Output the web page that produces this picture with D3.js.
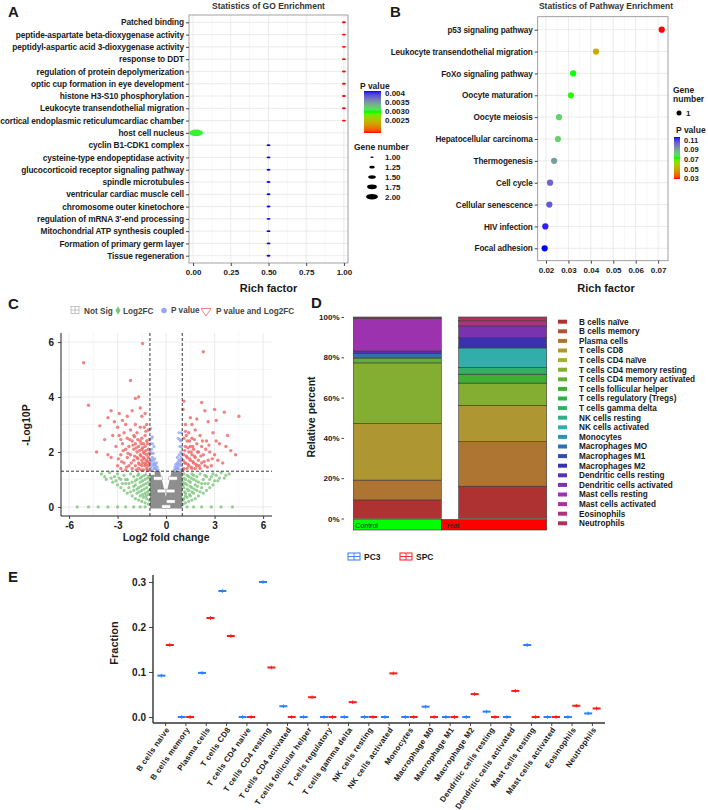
<!DOCTYPE html>
<html>
<head>
<script src="https://cdn.jsdelivr.net/npm/d3@7"></script>
<style>
body { margin: 0; background: #fff; }
svg { font-family: "Liberation Sans", Arial, sans-serif; font-weight: bold; }
.grid-major { stroke: #e6e6e6; stroke-width: 0.8; }
.grid-minor { stroke: #f2f2f2; stroke-width: 0.6; }
.border { fill: none; stroke: #8a8a8a; stroke-width: 0.8; }
</style>
</head>
<body>
<div id="chart"></div>
<script>

// ---------- A: GO enrichment ----------
var goTerms = ["Patched binding", "peptide-aspartate beta-dioxygenase activity",
  "peptidyl-aspartic acid 3-dioxygenase activity", "response to DDT",
  "regulation of protein depolymerization", "optic cup formation in eye development",
  "histone H3-S10 phosphorylation", "Leukocyte transendothelial migration",
  "cortical endoplasmic reticulumcardiac chamber", "host cell nucleus",
  "cyclin B1-CDK1  complex", "cysteine-type endopeptidase activity",
  "glucocorticoid receptor signaling pathway", "spindle microtubules",
  "ventricular cardiac muscle cell", "chromosome outer kinetochore",
  "regulation of mRNA 3'-end processing", "Mitochondrial ATP synthesis coupled",
  "Formation of primary germ layer", "Tissue regeneration"];
var goRich = [1, 1, 1, 1, 1, 1, 1, 1, 1, 0.02, 0.5, 0.5, 0.5, 0.5, 0.5, 0.5, 0.5, 0.5, 0.5, 0.5];
var goP = [0.0018, 0.0018, 0.0018, 0.0018, 0.0018, 0.0018, 0.0018, 0.0018, 0.0018, 0.003,
  0.0041, 0.0041, 0.0041, 0.0041, 0.0041, 0.0041, 0.0041, 0.0041, 0.0041, 0.0041];
var goGenes = [1, 1, 1, 1, 1, 1, 1, 1, 1, 2, 1, 1, 1, 1, 1, 1, 1, 1, 1, 1];
var goTicks = [0, 0.25, 0.5, 0.75, 1];
var goPTicks = [0.004, 0.0035, 0.003, 0.0025];
var goGeneTicks = [1, 1.25, 1.5, 1.75, 2];

// ---------- B: pathway enrichment ----------
var keggTerms = ["p53 signaling pathway", "Leukocyte transendothelial migration",
  "FoXo signaling pathway", "Oocyte maturation", "Oocyte meiosis",
  "Hepatocellular carcinoma", "Thermogenesis", "Cell cycle", "Cellular senescence",
  "HIV infection", "Focal adhesion"];
var keggRich = [0.0716, 0.0423, 0.0321, 0.0311, 0.0258, 0.0253, 0.0236, 0.0218, 0.0215, 0.0197, 0.0194];
var keggP = [0.0296, 0.051, 0.073, 0.072, 0.081, 0.082, 0.092, 0.103, 0.105, 0.114, 0.116];
var keggTicks = [0.02, 0.03, 0.04, 0.05, 0.06, 0.07];
var keggPTicks = [0.11, 0.09, 0.07, 0.05, 0.03];

// ---------- C: volcano ----------
var volcRed = [[-5.1,5.25],[-4.8,3.7],[-4.1,2.95],[-3.8,2.45],[-3.6,3.25],[-3.4,3.5],[-3.2,3.1],
  [-3.0,2.9],[-2.9,3.4],[-2.7,3.15],[-2.5,3.0],[-2.4,3.3],[-2.2,4.6],[-2.1,3.5],[-1.9,3.95],
  [-1.7,4.0],[-1.6,3.6],[-1.5,3.3],[-1.3,3.4],[-1.45,5.95],[-1.2,3.0],
  [-3.1,2.2],[-2.9,2.6],[-2.8,1.9],[-2.7,2.3],[-2.6,1.6],[-2.6,2.7],[-2.5,2.1],[-2.4,1.8],
  [-2.4,2.5],[-2.3,1.5],[-2.3,2.2],[-2.2,2.8],[-2.2,1.9],[-2.1,1.4],[-2.1,2.4],[-2.0,1.7],
  [-2.0,2.1],[-2.0,2.6],[-1.9,1.5],[-1.9,2.3],[-1.8,1.8],[-1.8,2.0],[-1.8,2.7],[-1.7,1.4],
  [-1.7,1.6],[-1.7,2.2],[-1.6,1.9],[-1.6,2.4],[-1.6,2.9],[-1.5,1.5],[-1.5,1.7],[-1.5,2.1],
  [-1.5,2.5],[-1.4,1.35],[-1.4,1.8],[-1.4,2.0],[-1.4,2.3],[-1.3,1.5],[-1.3,1.6],[-1.3,2.2],
  [-1.3,2.6],[-1.2,1.4],[-1.2,1.7],[-1.2,1.9],[-1.2,2.4],[-1.1,1.5],[-1.1,1.8],[-1.1,2.1],
  [-1.1,2.8],[-1.05,1.6],[-3.4,1.8],[-3.0,1.5],[-2.8,1.4],[-2.5,1.35],[-3.6,1.9],[-4.3,2.0],
  [-2.45,1.45],[-2.35,1.95],[-2.25,2.45],[-2.15,1.6],[-2.05,2.25],[-1.95,1.85],[-1.95,2.55],
  [-1.85,1.35],[-1.85,2.15],[-1.75,1.75],[-1.75,2.45],[-1.65,1.55],[-1.65,2.05],[-1.55,1.35],
  [-1.55,1.85],[-1.55,2.3],[-1.45,1.6],[-1.45,2.15],[-1.35,1.75],[-1.35,1.95],[-1.25,1.55],
  [-1.25,2.05],[-1.25,2.75],[-1.15,1.35],[-1.15,1.65],[-1.15,2.3],[-1.05,1.95],[-1.05,2.45],
  [-2.75,1.65],[-2.65,2.05],[-2.95,1.75],[-3.3,2.6],[-2.8,2.45],[-1.9,3.0],[-1.35,2.9],
  [2.3,5.65],[1.1,3.85],[1.05,3.55],[2.2,3.8],[2.4,3.5],[3.0,3.55],[3.1,3.15],[3.6,3.45],
  [4.5,3.3],[1.5,3.25],[1.9,3.2],[2.6,3.1],[3.8,2.6],[4.0,2.05],[3.7,2.2],[4.3,1.9],[3.2,1.7],
  [1.1,1.4],[1.1,1.9],[1.1,2.5],[1.2,1.6],[1.2,2.2],[1.2,3.0],[1.3,1.4],[1.3,1.8],[1.3,2.4],
  [1.4,1.5],[1.4,2.0],[1.4,2.7],[1.5,1.7],[1.5,2.2],[1.6,1.4],[1.6,1.9],[1.6,2.5],[1.7,1.6],
  [1.7,2.1],[1.8,1.4],[1.8,1.8],[1.8,2.8],[1.9,1.5],[1.9,2.3],[2.0,1.7],[2.0,2.0],[2.1,1.4],
  [2.1,2.6],[2.2,1.6],[2.2,2.2],[2.3,1.9],[2.4,1.5],[2.5,2.4],[2.6,1.7],[2.7,2.0],[2.8,1.5],
  [2.9,2.7],[3.0,1.9],[3.3,2.3],[3.5,1.6],[1.05,1.7],[1.15,2.05],
  [1.05,1.35],[1.15,1.6],[1.25,1.85],[1.25,2.6],[1.35,1.55],[1.35,2.15],[1.45,1.75],[1.45,2.4],
  [1.55,1.45],[1.55,2.0],[1.65,1.65],[1.65,2.2],[1.75,1.85],[1.75,2.45],[1.85,1.55],[1.95,2.0],
  [2.05,1.5],[2.15,1.85],[2.25,2.4],[2.35,1.65],[2.45,2.1],[2.55,1.45],[2.65,2.25],[2.85,1.75],
  [3.1,2.4],[1.2,2.75],[1.6,3.0]];
var volcBlue = [[-0.95,2.85],[-0.9,2.5],[-0.9,2.1],[-0.85,1.8],[-0.85,2.3],[-0.8,1.5],[-0.8,1.95],
  [-0.75,1.6],[-0.75,2.2],[-0.7,1.4],[-0.7,1.75],[-0.65,1.5],[-0.6,1.35],[-0.6,1.6],[-0.55,1.45],
  [-0.5,1.35],[-0.95,1.45],[-0.9,1.7],[-0.98,2.0],
  [-0.9,1.35],[-0.85,1.55],[-0.8,1.7],[-0.75,1.4],[-0.7,1.55],[-0.65,1.4],[-0.9,1.95],
  [-0.95,2.3],[-0.85,2.55],[-0.95,1.65],
  [0.95,2.7],[0.9,2.4],[0.9,2.0],[0.85,1.7],[0.85,2.2],[0.8,1.5],[0.8,1.9],[0.75,1.6],[0.75,2.5],
  [0.7,1.4],[0.7,1.8],[0.65,1.5],[0.6,1.35],[0.55,1.45],[0.5,1.35],[0.95,1.5],[0.92,1.8],
  [0.98,2.2],[0.8,2.7],
  [0.9,1.35],[0.85,1.55],[0.8,1.7],[0.75,1.4],[0.7,1.6],[0.65,1.4],[0.9,1.65],[0.95,1.95],
  [0.85,2.45],[0.6,1.55]];
var volcGreen = [[-4.0,1.2],[-3.7,1.0],[-3.5,1.25],[-3.3,0.9],[-3.2,1.1],[-3.0,0.8],[-3.0,1.2],
  [-2.8,0.7],[-2.8,1.0],[-2.6,0.6],[-2.6,1.15],[-2.5,0.85],[-2.4,0.5],[-2.4,1.0],[-2.3,0.7],
  [-2.2,1.2],[-2.1,0.4],[-2.1,0.9],[-2.0,0.6],[-2.0,1.1],[-1.9,0.3],[-1.9,0.8],[-1.8,0.5],
  [-1.8,1.0],[-1.7,0.25],[-1.7,0.7],[-1.7,1.2],[-1.6,0.4],[-1.6,0.9],[-1.5,0.2],[-1.5,0.6],
  [-1.5,1.1],[-1.4,0.35],[-1.4,0.8],[-1.3,0.15],[-1.3,0.5],[-1.3,1.0],[-1.2,0.3],[-1.2,0.7],
  [-1.2,1.2],[-1.1,0.1],[-1.1,0.45],[-1.1,0.9],[-1.05,0.6],[-1.05,1.1],
  [-3.8,1.1],[-3.4,1.05],[-3.1,0.95],[-2.9,1.05],[-2.7,0.85],[-2.5,1.0],[-2.3,0.85],[-2.2,0.55],
  [-2.0,0.75],[-1.9,0.95],[-1.8,0.65],[-1.75,1.15],[-1.65,0.55],[-1.6,1.05],[-1.55,0.75],
  [-1.45,0.45],[-1.45,0.95],[-1.35,0.65],[-1.35,1.15],[-1.25,0.4],[-1.25,0.85],[-1.15,0.55],
  [-1.15,1.05],[-1.05,0.25],[-1.05,0.8],
  [3.9,1.2],[3.6,1.05],[3.4,1.25],[3.2,0.95],[3.1,1.15],[2.9,0.8],[2.9,1.2],[2.7,0.7],[2.7,1.0],
  [2.5,0.6],[2.5,1.1],[2.4,0.85],[2.3,0.5],[2.3,1.0],[2.2,0.7],[2.1,1.2],[2.0,0.4],[2.0,0.9],
  [1.9,0.6],[1.9,1.1],[1.8,0.3],[1.8,0.8],[1.7,0.5],[1.7,1.0],[1.6,0.25],[1.6,0.7],[1.6,1.2],
  [1.5,0.4],[1.5,0.9],[1.4,0.2],[1.4,0.6],[1.4,1.1],[1.3,0.35],[1.3,0.8],[1.2,0.15],[1.2,0.5],
  [1.2,1.0],[1.1,0.3],[1.1,0.7],[1.1,1.2],[1.05,0.1],[1.05,0.9],
  [3.7,1.15],[3.3,1.05],[3.0,0.95],[2.8,1.1],[2.6,0.85],[2.4,1.15],[2.2,0.85],[2.1,0.55],
  [1.95,0.75],[1.85,0.95],[1.75,0.65],[1.7,1.15],[1.6,0.55],[1.55,1.05],[1.5,0.75],[1.45,0.45],
  [1.4,0.95],[1.3,0.65],[1.3,1.15],[1.2,0.4],[1.2,0.85],[1.15,0.55],[1.1,1.05],[1.05,0.25],[1.05,0.8],
  [-5.5,0],[-4.8,0],[-4.2,0],[-3.6,0],[-3.0,0],[-2.5,0],[-2.0,0],[-1.6,0],[-1.3,0],
  [1.3,0],[1.7,0],[2.2,0],[2.8,0],[3.4,0],[4.1,0]];
var volcGreyArea = [[-1,-0.06],[-1,1.3],[-0.38,1.3],[-0.02,0.37],[0.34,1.3],[1,1.3],[1,-0.06]];
var volcLabels = [[-0.96,1.22],[-0.5,1.04],[0.42,1.04],[-0.27,0.58],[0.27,0.58],[0.29,0.2],[0.0,0.01]];
var volcXTicks = [-6, -3, 0, 3, 6];
var volcYTicks = [0, 2, 4, 6];
var fcCut = 1, pCut = 1.3;

// ---------- D / E: immune cell fractions ----------
var cellLegend = ["B cells naïve", "B cells memory", "Plasma cells", "T cells CD8", "T cells CD4 naïve",
  "T cells CD4 memory resting", "T cells CD4 memory activated", "T cells follicular helper",
  "T cells regulatory (Tregs)", "T cells gamma delta", "NK cells resting", "NK cells activated",
  "Monocytes", "Macrophages MO", "Macrophages M1", "Macrophages M2", "Dendritic cells resting",
  "Dendritic cells activated", "Mast cells resting", "Mast cells activated", "Eosinophils", "Neutrophils"];
var cellAxis = ["B cells naive", "B cells memory", "Plasma cells", "T cells CD8", "T cells CD4 naive",
  "T cells CD4 resting", "T cells CD4 activated", "T cells follicular helper", "T cells regulatory",
  "T cells gamma delta", "NK cells resting", "NK cells activated", "Monocytes", "Macrophage M0",
  "Macrophage M1", "Macrophage M2", "Dendritic cells resting", "Dendritic cells activated",
  "Mast cells resting", "Mast cells activated", "Eosinophils", "Neutrophils"];
var pc3Frac = [0.092, 0, 0.098, 0.28, 0, 0.30, 0.024, 0, 0, 0, 0, 0, 0, 0.023, 0, 0, 0.012, 0, 0.16, 0, 0, 0.008];
var spcFrac = [0.16, 0, 0.22, 0.18, 0, 0.11, 0, 0.044, 0, 0.033, 0, 0.097, 0, 0, 0, 0.051, 0, 0.058, 0, 0, 0.025, 0.019];
var groups = ["Control", "Treat"];
var samples = ["PC3", "SPC"];
var pctTicks = [0, 0.2, 0.4, 0.6, 0.8, 1];
var fracTicks = [0, 0.1, 0.2, 0.3];

// ================= drawing =================
var W = 708, H = 810;
var svg = d3.select("#chart").append("svg").attr("width", W).attr("height", H);
svg.append("rect").attr("width", W).attr("height", H).attr("fill", "#fff");
var defs = svg.append("defs");

// red -> green -> blue, like ggplot gradientn
function rgbRamp(t) {
  return t < 0.5 ? d3.interpolateLab("#ff0000", "#00ff00")(t * 2)
                 : d3.interpolateLab("#00ff00", "#0000ff")((t - 0.5) * 2);
}
function makeGradient(id) {
  var g = defs.append("linearGradient").attr("id", id)
    .attr("x1", 0).attr("y1", 1).attr("x2", 0).attr("y2", 0);
  d3.range(0, 1.0001, 0.05).forEach(function(t) {
    g.append("stop").attr("offset", t).attr("stop-color", rgbRamp(t));
  });
}
makeGradient("gradA");
makeGradient("gradB");

function styleAxis(g, size) {
  g.attr("font-family", null).attr("font-size", size);
  g.select(".domain").remove();
  g.selectAll(".tick text").attr("fill", "#1a1a1a").attr("font-weight", "bold");
  g.selectAll(".tick line").attr("stroke", "#444");
}
function label(x, y, t, size, anchor, rot) {
  var el = svg.append("text").attr("font-size", size).attr("fill", "#1a1a1a")
    .attr("text-anchor", anchor || "start").text(t);
  if (rot) el.attr("transform", "translate(" + x + "," + y + ") rotate(" + rot + ")");
  else el.attr("x", x).attr("y", y);
  return el;
}
function minors(ticks) { return d3.pairs(ticks).map(function(p) { return (p[0] + p[1]) / 2; }); }

// panel letters
label(8, 17, "A", 15); label(390, 17, "B", 15); label(8, 309, "C", 15);
label(311, 308, "D", 15); label(8, 582, "E", 15);

// ---------- panel A ----------
(function() {
  var L = 189, R = 348, T = 15, B = 263;
  var x = d3.scaleLinear().domain([-0.027, 1.027]).range([L, R]);
  var y = d3.scalePoint().domain(goTerms).range([22.3, 255.7]);
  var col = d3.scaleSequential(rgbRamp).domain([0.0018, 0.0041]);
  var rx = d3.scaleLinear().domain([1, 2]).range([2, 7]);
  var g = svg.append("g");
  g.selectAll(".mn").data(minors(goTicks)).enter().append("line").attr("class", "grid-minor")
    .attr("x1", x).attr("x2", x).attr("y1", T).attr("y2", B);
  g.selectAll(".mj").data(goTicks).enter().append("line").attr("class", "grid-major")
    .attr("x1", x).attr("x2", x).attr("y1", T).attr("y2", B);
  g.selectAll(".hy").data(goTerms).enter().append("line").attr("class", "grid-major")
    .attr("x1", L).attr("x2", R).attr("y1", y).attr("y2", y);
  g.append("rect").attr("class", "border").attr("x", L).attr("y", T).attr("width", R - L).attr("height", B - T);
  g.selectAll("ellipse").data(goTerms).enter().append("ellipse")
    .attr("cx", function(d, i) { return x(goRich[i]); })
    .attr("cy", function(d) { return y(d); })
    .attr("rx", function(d, i) { return rx(goGenes[i]); })
    .attr("ry", function(d, i) { return rx(goGenes[i]) * 0.47; })
    .attr("fill", function(d, i) { return col(goP[i]); });
  var xa = g.append("g").attr("transform", "translate(0," + B + ")")
    .call(d3.axisBottom(x).tickValues(goTicks).tickFormat(d3.format(".2f")).tickSize(3).tickPadding(3));
  styleAxis(xa, 8);
  var ya = g.append("g").attr("transform", "translate(" + L + ",0)")
    .call(d3.axisLeft(y).tickSize(3).tickPadding(2));
  styleAxis(ya, 8.3);
  ya.selectAll(".tick text").attr("letter-spacing", -0.1);
  label((L + R) / 2, 9, "Statistics of GO Enrichment", 8.5, "middle").attr("fill", "#333");
  label((L + R) / 2, 292, "Rich factor", 11, "middle");

  // legend p value
  label(360, 89, "P value", 8.5);
  var cb = d3.scaleLinear().domain([0.0018, 0.0041]).range([133, 91]);
  g.append("rect").attr("x", 364).attr("y", 91).attr("width", 17).attr("height", 42).attr("fill", "url(#gradA)");
  g.selectAll(".cbl").data(goPTicks).enter().append("text").attr("font-size", 8)
    .attr("x", 385).attr("y", cb).attr("dy", "0.35em").attr("fill", "#1a1a1a")
    .text(function(d) { return d === 0.004 ? "0.004" : d3.format(".4f")(d); });
  // legend genes
  label(354, 150, "Gene number", 8.5);
  var gl = d3.scalePoint().domain(goGeneTicks).range([157.3, 196.7]);
  g.selectAll(".gle").data(goGeneTicks).enter().append("ellipse")
    .attr("cx", 372).attr("cy", gl).attr("rx", function(d) { return rx(d) * 0.85; })
    .attr("ry", function(d) { return rx(d) * 0.85 * 0.47; }).attr("fill", "#000");
  g.selectAll(".glt").data(goGeneTicks).enter().append("text").attr("font-size", 8)
    .attr("x", 385).attr("y", gl).attr("dy", "0.35em").attr("fill", "#1a1a1a")
    .text(d3.format(".2f"));
})();

// ---------- panel B ----------
(function() {
  var L = 537.7, R = 668, T = 16.7, B = 260.7;
  var x = d3.scaleLinear().domain([0.0163, 0.0744]).range([L, R]);
  var y = d3.scalePoint().domain(keggTerms).range([29.7, 248.3]);
  var col = d3.scaleSequential(rgbRamp).domain([0.0295, 0.116]);
  var g = svg.append("g");
  g.selectAll(".mn").data(minors(keggTicks)).enter().append("line").attr("class", "grid-minor")
    .attr("x1", x).attr("x2", x).attr("y1", T).attr("y2", B);
  g.selectAll(".mj").data(keggTicks).enter().append("line").attr("class", "grid-major")
    .attr("x1", x).attr("x2", x).attr("y1", T).attr("y2", B);
  g.selectAll(".hy").data(keggTerms).enter().append("line").attr("class", "grid-major")
    .attr("x1", L).attr("x2", R).attr("y1", y).attr("y2", y);
  g.append("rect").attr("class", "border").attr("x", L).attr("y", T).attr("width", R - L).attr("height", B - T);
  g.selectAll("circle").data(keggTerms).enter().append("circle")
    .attr("cx", function(d, i) { return x(keggRich[i]); })
    .attr("cy", function(d) { return y(d); })
    .attr("r", 3.1)
    .attr("fill", function(d, i) { return col(keggP[i]); });
  var xa = g.append("g").attr("transform", "translate(0," + B + ")")
    .call(d3.axisBottom(x).tickValues(keggTicks).tickFormat(d3.format(".2f")).tickSize(3).tickPadding(4));
  styleAxis(xa, 8);
  var ya = g.append("g").attr("transform", "translate(" + L + ",0)")
    .call(d3.axisLeft(y).tickSize(3).tickPadding(2));
  styleAxis(ya, 8.2);
  ya.selectAll(".tick text").attr("letter-spacing", -0.1);
  label(606, 9, "Statistics of Pathway Enrichment", 8.5, "middle").attr("fill", "#333");
  label(606, 292, "Rich factor", 11, "middle");

  label(673, 93, "Gene", 8.5); label(673, 102, "number", 8.5);
  g.append("circle").attr("cx", 679).attr("cy", 113).attr("r", 2.5).attr("fill", "#000");
  label(686, 116, "1", 8);
  label(676, 133, "P value", 8.5);
  var cb = d3.scaleLinear().domain([0.0295, 0.116]).range([179, 137]);
  g.append("rect").attr("x", 674).attr("y", 137).attr("width", 6).attr("height", 42).attr("fill", "url(#gradB)");
  g.selectAll(".cbl").data(keggPTicks).enter().append("text").attr("font-size", 7.5)
    .attr("x", 684).attr("y", cb).attr("dy", "0.35em").attr("fill", "#1a1a1a")
    .text(d3.format(".2f"));
})();

// ---------- panel C ----------
(function() {
  var L = 61, R = 272, T = 333, B = 516;
  var x = d3.scaleLinear().domain([-6.5, 6.55]).range([L, R]);
  var y = d3.scaleLinear().domain([-0.33, 6.33]).range([B, T]);
  var g = svg.append("g");
  g.selectAll(".mnx").data(minors(volcXTicks)).enter().append("line").attr("class", "grid-minor")
    .attr("x1", x).attr("x2", x).attr("y1", T).attr("y2", B);
  g.selectAll(".mny").data(minors(volcYTicks)).enter().append("line").attr("class", "grid-minor")
    .attr("x1", L).attr("x2", R).attr("y1", y).attr("y2", y);
  g.selectAll(".mjx").data(volcXTicks).enter().append("line").attr("class", "grid-major")
    .attr("x1", x).attr("x2", x).attr("y1", T).attr("y2", B);
  g.selectAll(".mjy").data(volcYTicks).enter().append("line").attr("class", "grid-major")
    .attr("x1", L).attr("x2", R).attr("y1", y).attr("y2", y);

  g.append("path").datum(volcGreyArea)
    .attr("d", d3.line().x(function(d) { return x(d[0]); }).y(function(d) { return y(d[1]); }).curve(d3.curveLinearClosed))
    .attr("fill", "#8e8e8e");
  function pts(data, color, r) {
    g.append("g").selectAll("circle").data(data).enter().append("circle")
      .attr("cx", function(d) { return x(d[0]); }).attr("cy", function(d) { return y(d[1]); })
      .attr("r", r).attr("fill", color).attr("fill-opacity", 0.8);
  }
  pts(volcGreen, "#7cc47c", 1.6);
  pts(volcBlue, "#95a8f2", 1.6);
  pts(volcRed, "#ef6464", 1.7);
  g.selectAll(".lab").data(volcLabels).enter().append("rect")
    .attr("x", function(d) { return x(d[0]) - 4.5; }).attr("y", function(d) { return y(d[1]) - 1.8; })
    .attr("width", 9).attr("height", 3.6).attr("rx", 1)
    .attr("fill", "#fff").attr("stroke", "#666").attr("stroke-width", 0.4);

  g.selectAll(".vc").data([-fcCut, fcCut]).enter().append("line")
    .attr("x1", x).attr("x2", x).attr("y1", T).attr("y2", B)
    .attr("stroke", "#222").attr("stroke-width", 0.9).attr("stroke-dasharray", "3,2");
  g.append("line").attr("x1", L).attr("x2", R).attr("y1", y(pCut)).attr("y2", y(pCut))
    .attr("stroke", "#222").attr("stroke-width", 0.9).attr("stroke-dasharray", "3,2");

  var xa = g.append("g").attr("transform", "translate(0," + B + ")")
    .call(d3.axisBottom(x).tickValues(volcXTicks).tickFormat(function(d) { return String(d); }).tickSize(3).tickPadding(3));
  styleAxis(xa, 10);
  var ya = g.append("g").attr("transform", "translate(" + L + ",0)")
    .call(d3.axisLeft(y).tickValues(volcYTicks).tickFormat(function(d) { return String(d); }).tickSize(3).tickPadding(4));
  styleAxis(ya, 10);
  g.append("line").attr("x1", L).attr("x2", R).attr("y1", B).attr("y2", B).attr("stroke", "#222");
  g.append("line").attr("x1", L).attr("x2", L).attr("y1", T).attr("y2", B).attr("stroke", "#222");
  label(x(0), 541, "Log2 fold change", 10.5, "middle");
  label(30, 425, "-Log10P", 10.5, "middle", -90);

  // legend
  var lg = g.append("g");
  lg.append("rect").attr("x", 71).attr("y", 306.5).attr("width", 8).attr("height", 7)
    .attr("fill", "none").attr("stroke", "#aaa").attr("stroke-width", 0.7);
  lg.append("path").attr("d", "M71,310H79M75,306.5V313.5").attr("stroke", "#aaa").attr("stroke-width", 0.7);
  label(84, 313.5, "Not Sig", 8.2).attr("fill", "#444");
  lg.append("path").attr("d", d3.symbol(d3.symbolDiamond, 22)()).attr("transform", "translate(118,310.5)").attr("fill", "#7cc47c");
  label(123, 313.5, "Log2FC", 8.2).attr("fill", "#444");
  lg.append("circle").attr("cx", 164).attr("cy", 310.5).attr("r", 2.8).attr("fill", "#95a8f2");
  label(171, 312.5, "P value", 8.2).attr("fill", "#444");
  lg.append("path").attr("d", "M201,308.5L211,308.5L206,316Z").attr("fill", "none").attr("stroke", "#ef6464").attr("stroke-width", 0.8);
  label(216, 313.5, "P value and Log2FC", 8.2).attr("fill", "#444");
})();

// ---------- panel D ----------
(function() {
  var x = d3.scaleBand().domain(groups).range([353.3, 546.7]).paddingInner(0.165).paddingOuter(0);
  var y = d3.scaleLinear().domain([0, 1]).range([518.5, 317]);
  var color = function(i) { return d3.hsl(i * 340 / 21, 0.55, 0.44).formatHex(); };
  var rows = [pc3Frac, spcFrac].map(function(v, j) { return { group: groups[j], vals: v }; });
  var stack = d3.stack().keys(d3.range(cellLegend.length))
    .value(function(d, k) { return d.vals[k]; }).offset(d3.stackOffsetExpand);
  var series = stack(rows);
  var g = svg.append("g");
  var sg = g.selectAll(".s").data(series).enter().append("g").attr("fill", function(d) { return color(d.key); });
  sg.selectAll("rect").data(function(d) { return d.filter(function(p) { return p[1] - p[0] > 0; }); })
    .enter().append("rect")
    .attr("x", function(d) { return x(d.data.group); }).attr("width", x.bandwidth())
    .attr("y", function(d) { return y(d[1]); }).attr("height", function(d) { return y(d[0]) - y(d[1]); })
    .attr("stroke", "#3a3a3a").attr("stroke-width", 0.6);
  var ya = g.append("g").attr("transform", "translate(344,0)")
    .call(d3.axisLeft(y).tickValues(pctTicks).tickFormat(d3.format(".0%")).tickSize(2.5).tickPadding(2));
  styleAxis(ya, 8);
  label(315, 417, "Relative percent", 10.5, "middle", -90);

  // group strip
  var x0 = x("Control"), bw = x.bandwidth();
  var strip = [[x0, x0 + bw, "#00ff00", "Control"], [x0 + bw, x("Treat") + bw, "#ff0000", "Treat"]];
  g.selectAll(".strip").data(strip).enter().append("rect")
    .attr("x", function(d) { return d[0]; }).attr("width", function(d) { return d[1] - d[0]; })
    .attr("y", 519.5).attr("height", 10.5).attr("fill", function(d) { return d[2]; })
    .attr("stroke", "#333").attr("stroke-width", 0.6);
  g.selectAll(".stript").data(strip).enter().append("text")
    .attr("x", function(d) { return d[0] + 2; }).attr("y", 527.8).attr("font-size", 7)
    .attr("font-family", "'Liberation Sans Narrow', 'Liberation Sans', Arial, sans-serif")
    .attr("font-weight", "normal").attr("fill", "#222")
    .text(function(d) { return d[3]; });

  // legend
  var ly = d3.scalePoint().domain(cellLegend).range([321.7, 523.3]);
  g.selectAll(".lk").data(cellLegend).enter().append("rect")
    .attr("x", 558).attr("y", function(d) { return ly(d) - 2; }).attr("width", 9).attr("height", 4)
    .attr("fill", function(d, i) { return color(i); });
  g.selectAll(".lt").data(cellLegend).enter().append("text")
    .attr("x", 579).attr("y", ly).attr("dy", "0.35em").attr("font-size", 8.2).attr("fill", "#1a1a1a")
    .text(function(d) { return d; });
})();

// ---------- panel E ----------
(function() {
  var x = d3.scaleBand().domain(cellAxis).range([153, 605]).paddingInner(0).paddingOuter(0.12);
  var y = d3.scaleLinear().domain([-0.0133, 0.3156]).range([723, 575]);
  var off = d3.scalePoint().domain(samples).range([-4.2, 4.2]);
  var colors = { PC3: "#2a7fff", SPC: "#ff1a1a" };
  var g = svg.append("g");
  var ya = g.append("g").attr("transform", "translate(153,0)")
    .call(d3.axisLeft(y).tickValues(fracTicks).tickFormat(d3.format(".1f")).tickSize(4).tickPadding(3));
  styleAxis(ya, 10);
  var xa = g.append("g").attr("transform", "translate(0,723)")
    .call(d3.axisBottom(x).tickSize(3).tickFormat(""));
  styleAxis(xa, 8);
  g.append("line").attr("x1", 153).attr("x2", 153).attr("y1", 575).attr("y2", 723).attr("stroke", "#333").attr("stroke-width", 1.4);
  g.append("line").attr("x1", 153).attr("x2", 605).attr("y1", 723).attr("y2", 723).attr("stroke", "#333").attr("stroke-width", 1.4);
  g.selectAll(".xl").data(cellAxis).enter().append("text")
    .attr("transform", function(d) { return "translate(" + (x(d) + x.bandwidth() / 2 + 2) + ",728) rotate(-55)"; })
    .attr("text-anchor", "end").attr("dy", "0.35em").attr("font-size", 7.9).attr("letter-spacing", 0.3)
    .attr("fill", "#1a1a1a").text(function(d) { return d; });

  var pts = [];
  cellAxis.forEach(function(c, i) {
    pts.push({ cell: c, s: "PC3", v: pc3Frac[i] });
    pts.push({ cell: c, s: "SPC", v: spcFrac[i] });
  });
  var mk = g.selectAll(".mk").data(pts).enter().append("g")
    .attr("transform", function(d) { return "translate(" + (x(d.cell) + x.bandwidth() / 2 + off(d.s)) + "," + y(d.v) + ")"; })
    .attr("stroke", function(d) { return colors[d.s]; });
  mk.append("line").attr("x1", -4).attr("x2", 4).attr("stroke-width", 2);
  mk.append("line").attr("y1", -1.8).attr("y2", 1.8).attr("stroke-width", 1);
  label(118, 643, "Fraction", 11, "middle", -90);

  // legend
  var lx = d3.scalePoint().domain(samples).range([348, 400]);
  var lg = g.selectAll(".lg").data(samples).enter().append("g")
    .attr("transform", function(d) { return "translate(" + lx(d) + ",553)"; });
  lg.append("rect").attr("width", 12).attr("height", 7).attr("fill", "none")
    .attr("stroke", function(d) { return colors[d]; }).attr("stroke-width", 1);
  lg.append("path").attr("d", "M0,3.5H12M6,0V7").attr("stroke", function(d) { return colors[d]; }).attr("stroke-width", 0.9);
  lg.append("text").attr("x", 16).attr("y", 7).attr("font-size", 8.5).attr("fill", "#1a1a1a").text(function(d) { return d; });
})();
</script>
</body>
</html>
